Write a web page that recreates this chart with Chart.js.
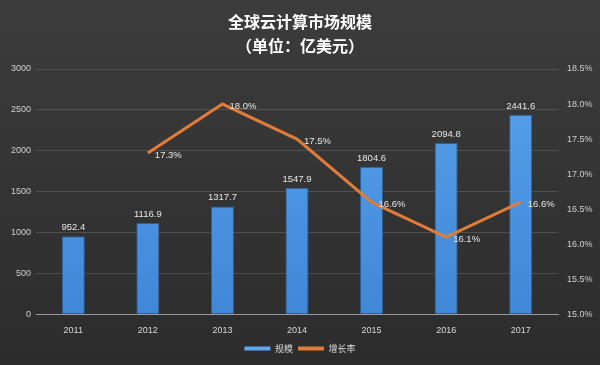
<!DOCTYPE html>
<html>
<head>
<meta charset="utf-8">
<script src="https://cdn.jsdelivr.net/npm/chart.js@4/dist/chart.umd.min.js"></script>
<style>
  html, body { margin: 0; padding: 0; background: #333; }
  #wrap { width: 600px; height: 365px; }
</style>
</head>
<body>
<div id="wrap"><canvas id="cloudChart"></canvas></div>
<script>
// Data
const years = ['2011', '2012', '2013', '2014', '2015', '2016', '2017'];
const marketSize = [952.4, 1116.9, 1317.7, 1547.9, 1804.6, 2094.8, 2441.6]; // 亿美元
const growthRate = [null, 17.3, 18.0, 17.5, 16.6, 16.1, 16.6]; // %
const titleLines = ['全球云计算市场规模', '（单位：亿美元）'];

const cjk = '"Noto Sans CJK SC", "Noto Sans", sans-serif';
const tickFont = { size: 9, family: '"Liberation Sans", sans-serif' };

// dark gradient background
const bgPlugin = {
    id: 'bg',
    beforeDraw(chart) {
        const c = chart.ctx;
        const g = c.createLinearGradient(0, 0, 0, chart.height);
        g.addColorStop(0, '#3c3c3c');
        g.addColorStop(1, '#2c2c2c');
        c.save();
        c.fillStyle = g;
        c.fillRect(0, 0, chart.width, chart.height);
        c.restore();
    }
};

// value labels on bars and line points
const valueLabels = {
    id: 'valueLabels',
    afterDatasetsDraw(chart) {
        const c = chart.ctx;
        c.save();
        c.font = '9.5px "Liberation Sans", sans-serif';
        c.fillStyle = '#e6e6e6';
        chart.getDatasetMeta(0).data.forEach((bar, i) => {
            c.textAlign = 'center';
            c.textBaseline = 'bottom';
            c.fillText(marketSize[i].toFixed(1), bar.x, bar.y - 4);
        });
        chart.getDatasetMeta(1).data.forEach((pt, i) => {
            if (growthRate[i] == null) return;
            c.textAlign = 'left';
            c.textBaseline = 'middle';
            c.fillText(growthRate[i].toFixed(1) + '%', pt.x + 7, pt.y + 2);
        });
        c.restore();
    }
};

const ctx = document.getElementById('cloudChart').getContext('2d');
const barFill = ctx.createLinearGradient(0, 0, 0, 330);
barFill.addColorStop(0, '#5ea8f0');
barFill.addColorStop(1, '#3f86d6');

new Chart(ctx, {
    data: {
        labels: years,
        datasets: [
            {
                type: 'bar',
                label: '规模',
                data: marketSize,
                yAxisID: 'y',
                backgroundColor: barFill,
                borderColor: '#2a5f9a',
                borderWidth: 1,
                barPercentage: 0.31,
                categoryPercentage: 1,
                order: 2
            },
            {
                type: 'line',
                label: '增长率',
                data: growthRate,
                yAxisID: 'y1',
                borderColor: '#e07b39',
                backgroundColor: '#e07b39',
                borderWidth: 3,
                pointRadius: 0,
                tension: 0,
                spanGaps: false,
                order: 1
            }
        ]
    },
    options: {
        responsive: true,
        maintainAspectRatio: false,
        animation: false,
        layout: { padding: { left: 0, right: 0, top: 0, bottom: 2 } },
        scales: {
            x: {
                grid: { display: false },
                border: { color: '#9a9a9a', width: 1 },
                ticks: { color: '#d8d8d8', font: tickFont, padding: 3 }
            },
            y: {
                position: 'left',
                min: 0,
                max: 3000,
                ticks: { stepSize: 500, color: '#cfcfcf', font: tickFont, padding: 5, callback: v => String(v) },
                grid: { color: 'rgba(255,255,255,0.14)', drawTicks: false },
                border: { display: false },
                afterFit: s => { s.width = 36; }
            },
            y1: {
                position: 'right',
                min: 15,
                max: 18.5,
                ticks: {
                    stepSize: 0.5,
                    color: '#cfcfcf',
                    font: tickFont,
                    padding: 1,
                    callback: v => v.toFixed(1) + '%'
                },
                grid: { display: false },
                border: { display: false },
                afterFit: s => { s.width = 42; }
            }
        },
        plugins: {
            title: {
                display: true,
                text: titleLines,
                color: '#ffffff',
                font: { size: 16, weight: 'bold', family: cjk, lineHeight: 1.5 },
                padding: { top: 10, bottom: 11 }
            },
            legend: {
                display: true,
                position: 'bottom',
                labels: {
                    color: '#d8d8d8',
                    font: { size: 9, family: cjk },
                    boxWidth: 26,
                    boxHeight: 4,
                    padding: 5,
                    generateLabels: chart => chart.data.datasets.map((ds, i) => ({
                        text: ds.label,
                        fillStyle: i === 0 ? '#5ea8f0' : '#e07b39',
                        strokeStyle: i === 0 ? '#5ea8f0' : '#e07b39',
                        lineWidth: 0,
                        fontColor: '#d8d8d8',
                        datasetIndex: i
                    }))
                }
            },
            tooltip: { enabled: false }
        }
    },
    plugins: [bgPlugin, valueLabels]
});
</script>
</body>
</html>
